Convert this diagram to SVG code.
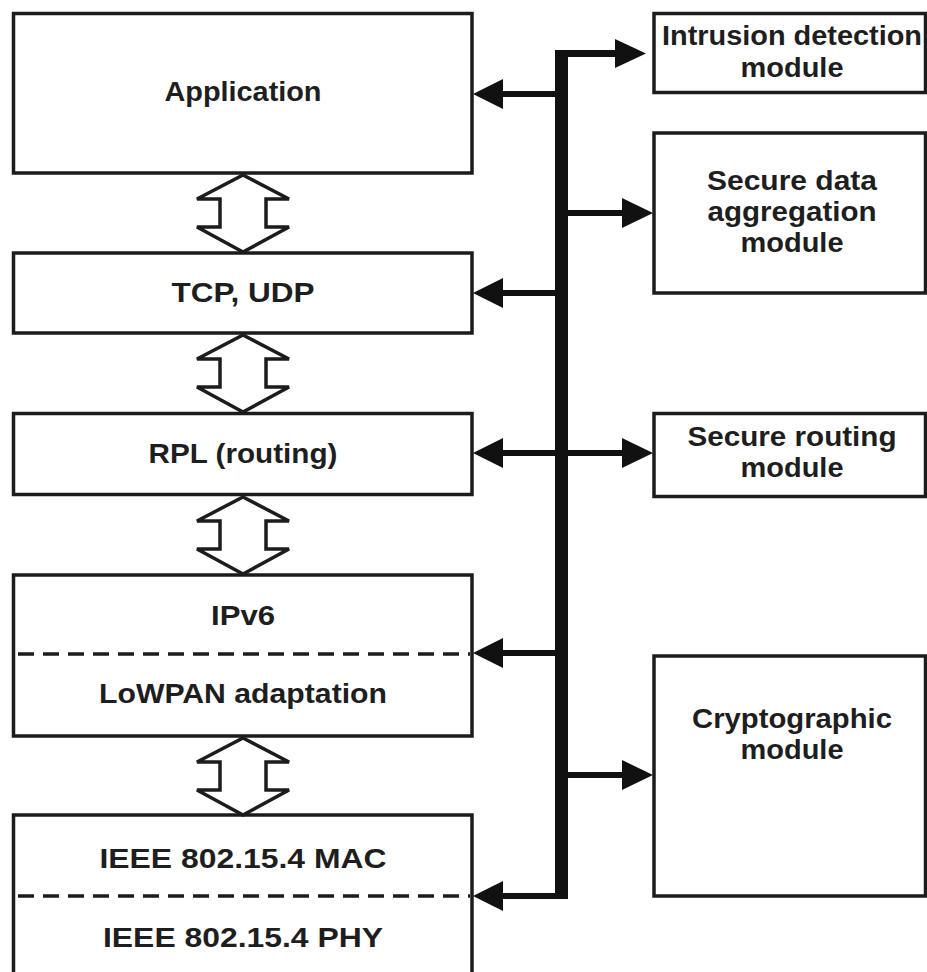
<svg xmlns="http://www.w3.org/2000/svg" xmlns:xlink="http://www.w3.org/1999/xlink" width="927" height="972" viewBox="0 0 927 972">
  <style>
    .box { fill: #ffffff; stroke: #1c1c1c; stroke-width: 3.5; }
    .dash { fill: none; stroke: #1c1c1c; stroke-width: 3.5; stroke-dasharray: 16 9; }
    .lbl { font-family: "Liberation Sans", Arial, Helvetica, sans-serif; font-size: 28px; font-weight: bold; fill: #1e1e1e; text-anchor: middle; }
    .bus { fill: #111111; }
    .head { fill: #111111; }
    .harrow { fill: #ffffff; stroke: #1c1c1c; stroke-width: 3.5; stroke-linejoin: miter; }
  </style>
  <defs>
    <path id="dblarrow" d="M0,0 L46,24 L23,24 L23,52 L46,52 L0,77 L-46,52 L-23,52 L-23,24 L-46,24 Z"/>
  </defs>
  <rect width="927" height="972" fill="#ffffff"/>

  <!-- Left stack nodes -->
  <g id="application">
    <rect class="box" x="13.5" y="13.5" width="458.5" height="159.5"/>
    <text class="lbl" x="243" y="101" textLength="157" lengthAdjust="spacingAndGlyphs">Application</text>
  </g>
  <g id="tcp-udp">
    <rect class="box" x="13.5" y="253" width="458.5" height="80"/>
    <text class="lbl" x="243" y="302" textLength="143" lengthAdjust="spacingAndGlyphs">TCP, UDP</text>
  </g>
  <g id="rpl">
    <rect class="box" x="13.5" y="413.5" width="458.5" height="81"/>
    <text class="lbl" x="243" y="463" textLength="189" lengthAdjust="spacingAndGlyphs">RPL (routing)</text>
  </g>
  <g id="ipv6-lowpan">
    <rect class="box" x="13.5" y="575" width="458.5" height="161"/>
    <line class="dash" x1="18" y1="654" x2="470" y2="654"/>
    <text class="lbl" x="243" y="625" textLength="64" lengthAdjust="spacingAndGlyphs">IPv6</text>
    <text class="lbl" x="243" y="703" textLength="288" lengthAdjust="spacingAndGlyphs">LoWPAN adaptation</text>
  </g>
  <g id="ieee-802154">
    <rect class="box" x="13.5" y="815" width="458.5" height="175"/>
    <line class="dash" x1="18" y1="896" x2="470" y2="896"/>
    <text class="lbl" x="243" y="868" textLength="287" lengthAdjust="spacingAndGlyphs">IEEE 802.15.4 MAC</text>
    <text class="lbl" x="243" y="947" textLength="280" lengthAdjust="spacingAndGlyphs">IEEE 802.15.4 PHY</text>
  </g>

  <!-- Right module nodes -->
  <g id="intrusion-detection">
    <rect class="box" x="654" y="13.5" width="271.5" height="79"/>
    <text class="lbl" x="792" y="45" textLength="260" lengthAdjust="spacingAndGlyphs">Intrusion detection</text>
    <text class="lbl" x="792" y="77" textLength="103" lengthAdjust="spacingAndGlyphs">module</text>
  </g>
  <g id="secure-data-aggregation">
    <rect class="box" x="654" y="133" width="271.5" height="160"/>
    <text class="lbl" x="792" y="190" textLength="170" lengthAdjust="spacingAndGlyphs">Secure data</text>
    <text class="lbl" x="792" y="221" textLength="169" lengthAdjust="spacingAndGlyphs">aggregation</text>
    <text class="lbl" x="792" y="252" textLength="103" lengthAdjust="spacingAndGlyphs">module</text>
  </g>
  <g id="secure-routing">
    <rect class="box" x="654" y="413.5" width="271.5" height="83"/>
    <text class="lbl" x="792" y="446" textLength="209" lengthAdjust="spacingAndGlyphs">Secure routing</text>
    <text class="lbl" x="792" y="477" textLength="103" lengthAdjust="spacingAndGlyphs">module</text>
  </g>
  <g id="cryptographic">
    <rect class="box" x="654" y="656" width="271.5" height="240"/>
    <text class="lbl" x="792" y="728" textLength="200" lengthAdjust="spacingAndGlyphs">Cryptographic</text>
    <text class="lbl" x="792" y="759" textLength="103" lengthAdjust="spacingAndGlyphs">module</text>
  </g>

  <!-- Connectors -->
  <g id="connectors">
    <!-- hollow double arrows between layers -->
    <use xlink:href="#dblarrow" href="#dblarrow" class="harrow" transform="translate(243,175)"/>
    <use xlink:href="#dblarrow" href="#dblarrow" class="harrow" transform="translate(243,335)"/>
    <use xlink:href="#dblarrow" href="#dblarrow" class="harrow" transform="translate(243,497)"/>
    <use xlink:href="#dblarrow" href="#dblarrow" class="harrow" transform="translate(243,738)"/>

    <!-- vertical bus -->
    <rect class="bus" x="555" y="50" width="13" height="849"/>

    <!-- to Intrusion detection -->
    <rect class="bus" x="560" y="50" width="57" height="7"/>
    <polygon class="head" points="615,39 646,53.5 615,68"/>
    <!-- to Application -->
    <rect class="bus" x="500" y="91" width="58" height="6"/>
    <polygon class="head" points="473,94 503,79 503,109"/>
    <!-- to Secure data aggregation -->
    <rect class="bus" x="566" y="210" width="58" height="6"/>
    <polygon class="head" points="622,198 653,213 622,228"/>
    <!-- to TCP, UDP -->
    <rect class="bus" x="500" y="290" width="58" height="6"/>
    <polygon class="head" points="473,293 503,278 503,308"/>
    <!-- RPL <-> Secure routing -->
    <rect class="bus" x="500" y="450" width="124" height="6"/>
    <polygon class="head" points="473,453 503,438 503,468"/>
    <polygon class="head" points="622,438 653,453 622,468"/>
    <!-- to IPv6 / LoWPAN -->
    <rect class="bus" x="500" y="650" width="58" height="6"/>
    <polygon class="head" points="473,653 503,638 503,668"/>
    <!-- to Cryptographic -->
    <rect class="bus" x="566" y="772" width="58" height="6"/>
    <polygon class="head" points="622,760 653,775 622,790"/>
    <!-- to IEEE 802.15.4 -->
    <rect class="bus" x="500" y="893" width="68" height="6"/>
    <polygon class="head" points="473,896 503,881 503,911"/>
  </g>
</svg>
